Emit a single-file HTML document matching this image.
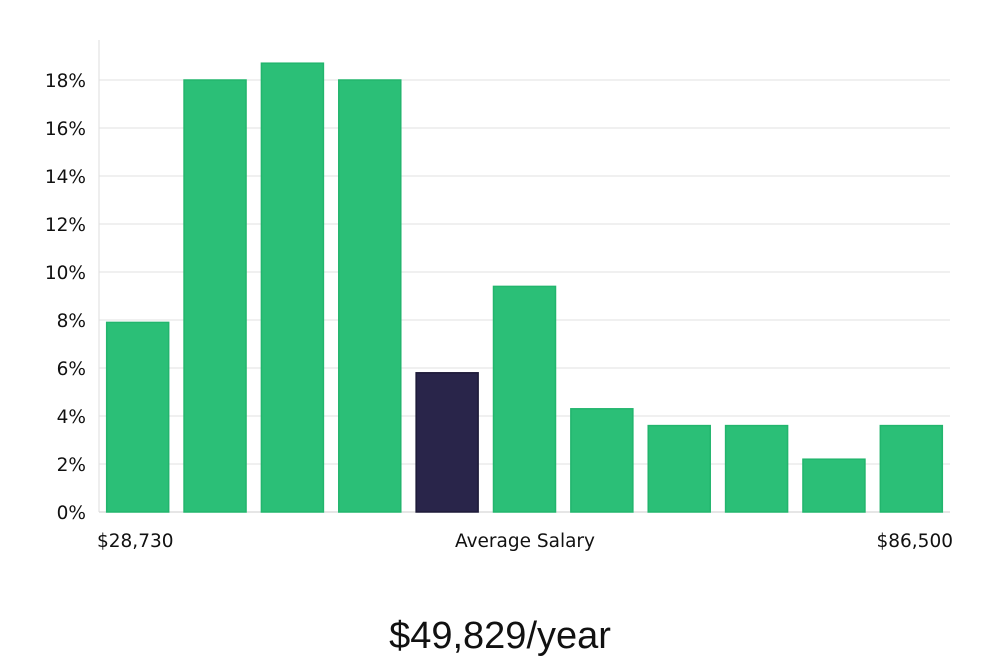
<!DOCTYPE html>
<html><head><meta charset="utf-8"><style>
body{margin:0;background:#fff;width:1000px;height:660px;overflow:hidden;font-family:"DejaVu Sans","Liberation Sans",sans-serif}
</style></head><body>
<svg id="chart" width="1000" height="660" xmlns="http://www.w3.org/2000/svg">
<g id="grid"></g>
<g id="yticks"></g>
<g id="bars"></g>
<line x1="99" y1="40" x2="99" y2="512" stroke="#ddd" stroke-width="1"/>
<text x="97" y="547" font-size="18.5" fill="#111">$28,730</text>
<text x="525" y="547" font-size="18.5" fill="#111" text-anchor="middle">Average Salary</text>
<text x="953" y="547" font-size="18.5" fill="#111" text-anchor="end">$86,500</text>
<text x="500" y="648" font-size="38" fill="#111" text-anchor="middle" font-family="Liberation Sans, sans-serif">$49,829/year</text>
</svg>
<script>
const categories=["b1","b2","b3","b4","b5","b6","b7","b8","b9","b10","b11"];
const values=[7.9,18,18.7,18,5.8,9.4,4.3,3.6,3.6,2.2,3.6];
const highlight=[false,false,false,false,true,false,false,false,false,false,false];
const yTicks=[0,2,4,6,8,10,12,14,16,18];
const NS="http://www.w3.org/2000/svg";
const x0=99,x1=950,yBase=512,pxPer=24;
const y=v=>yBase-v*pxPer;
const band=(x1-x0)/categories.length;
const grid=document.getElementById('grid'),yt=document.getElementById('yticks'),bars=document.getElementById('bars');
yTicks.forEach(t=>{
 const l=document.createElementNS(NS,'line');
 
 
 l.setAttribute('x1',x0);l.setAttribute('x2',x1);l.setAttribute('y1',y(t));l.setAttribute('y2',y(t));
 l.setAttribute('stroke',t===0?'#ccc':'#e2e2e2');grid.appendChild(l);
 const tx=document.createElementNS(NS,'text');
 
 
 tx.setAttribute('x',86);tx.setAttribute('y',y(t)+7);tx.setAttribute('text-anchor','end');
 tx.setAttribute('font-size','18.5');tx.setAttribute('fill','#111');tx.textContent=t+'%';yt.appendChild(tx);
});
categories.forEach((c,i)=>{
 const r=document.createElementNS(NS,'rect');
 
 
 const w=62;
 r.setAttribute('x',x0+i*band+(band-w)/2);r.setAttribute('width',w);
 r.setAttribute('y',y(values[i]));r.setAttribute('height',yBase-y(values[i]));
 r.setAttribute('fill',highlight[i]?'#29254a':'#2bbf77');
 r.setAttribute('stroke',highlight[i]?'#1d1a38':'#22b56d');r.setAttribute('stroke-width','1.5');
 bars.appendChild(r);
});
</script>
</body></html>
